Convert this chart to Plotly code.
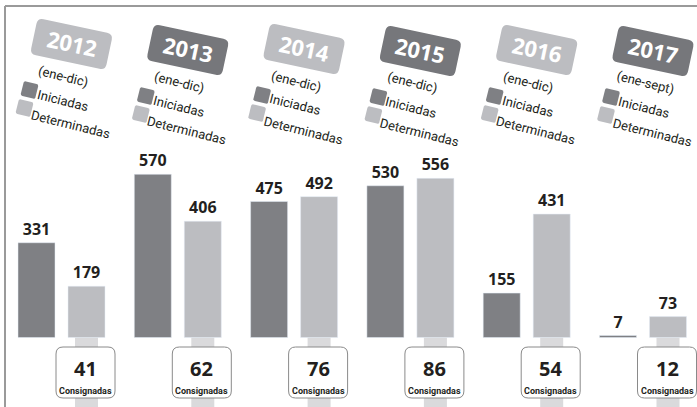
import math
import plotly.graph_objects as go

# ---------------- data ----------------
years = ["2012", "2013", "2014", "2015", "2016", "2017"]
periods = ["(ene-dic)", "(ene-dic)", "(ene-dic)", "(ene-dic)", "(ene-dic)", "(ene-sept)"]
iniciadas = [331, 570, 475, 530, 155, 7]
determinadas = [179, 406, 492, 556, 431, 73]
consignadas = [41, 62, 76, 86, 54, 12]
series_names = ["Iniciadas", "Determinadas"]
box_label = "Consignadas"

# ---------------- style / layout ----------------
W, H = 697, 407
DARK = "#7f8084"
LIGHT = "#bcbdc1"
STRIP = "#dadadc"
TXT = "#231f20"
NUM_FONT = "Open Sans, Liberation Sans, sans-serif"
NARROW = "Roboto, Liberation Sans, sans-serif"

PX_X = 116.3
X0_PX = 61.5
PX_Y = 0.2863
BASE_PX = 337.5
BAR_W = 37 / PX_X
HALF_SEP = 25 / PX_X
ANG_BADGE = 12
ANG_TEXT = 14

x_idx = list(range(len(years)))

fig = go.Figure()
fig.add_trace(go.Bar(
    x=x_idx, y=iniciadas, name=series_names[0], marker_color=DARK,
    width=BAR_W, offset=-HALF_SEP - BAR_W / 2,
    text=iniciadas, textposition="outside", constraintext="none", cliponaxis=False,
    textfont=dict(family=NUM_FONT, size=16, color=TXT, weight="bold"),
    hoverinfo="skip"))
fig.add_trace(go.Bar(
    x=x_idx, y=determinadas, name=series_names[1], marker_color=LIGHT,
    width=BAR_W, offset=HALF_SEP - BAR_W / 2,
    text=determinadas, textposition="outside", constraintext="none", cliponaxis=False,
    textfont=dict(family=NUM_FONT, size=16, color=TXT, weight="bold"),
    hoverinfo="skip"))


def rr_path(w, h, r, ang_deg=0.0, cx=0.0, cy=0.0):
    """rounded rectangle in pixel offsets (y up), rotated clockwise on screen."""
    a = math.radians(ang_deg)
    ca, sa = math.cos(a), math.sin(a)

    def P(u, v):
        X = cx + u * ca - v * sa
        Y = cy - (u * sa + v * ca)
        return f"{X:.2f},{Y:.2f}"

    hw, hh = w / 2, h / 2
    return (f"M{P(-hw + r, -hh)} L{P(hw - r, -hh)} Q{P(hw, -hh)} {P(hw, -hh + r)} "
            f"L{P(hw, hh - r)} Q{P(hw, hh)} {P(hw - r, hh)} L{P(-hw + r, hh)} "
            f"Q{P(-hw, hh)} {P(-hw, hh - r)} L{P(-hw, -hh + r)} Q{P(-hw, -hh)} {P(-hw + r, -hh)} Z")


def paper_y(py):
    return 1 - py / H


shapes = []
annotations = []
group_dy = [-6, 0, -1, 1, 0, 1]

for i in x_idx:
    dy = group_dy[i]
    badge_col = LIGHT if i % 2 == 0 else "#76777b"
    shapes.append(dict(type="path", xref="x", yref="paper", xsizemode="pixel", ysizemode="pixel",
                       xanchor=i, yanchor=paper_y(50 + dy),
                       path=rr_path(77, 37, 6, ANG_BADGE, cx=10), fillcolor=badge_col, line=dict(width=0)))
    annotations.append(dict(x=i, y=paper_y(49 + dy), xref="x", yref="paper", xshift=10,
                            text=f"<b>{years[i]}</b>", showarrow=False, textangle=ANG_BADGE,
                            font=dict(family=NUM_FONT, size=22, color="white"),
                            xanchor="center", yanchor="middle"))
    annotations.append(dict(x=i, y=paper_y(82 + dy), xref="x", yref="paper", xshift=2,
                            text=periods[i], showarrow=False, textangle=ANG_TEXT,
                            font=dict(family=NARROW, size=13, color=TXT),
                            xanchor="center", yanchor="middle"))
    shapes.append(dict(type="path", xref="x", yref="paper", xsizemode="pixel", ysizemode="pixel",
                       xanchor=i, yanchor=paper_y(96 + dy),
                       path=rr_path(15, 15, 2, ANG_TEXT, cx=-32), fillcolor=DARK, line=dict(width=0)))
    shapes.append(dict(type="path", xref="x", yref="paper", xsizemode="pixel", ysizemode="pixel",
                       xanchor=i, yanchor=paper_y(114 + dy),
                       path=rr_path(15, 15, 2, ANG_TEXT, cx=-37), fillcolor=LIGHT, line=dict(width=0)))
    annotations.append(dict(x=i, y=paper_y(106 + dy), xref="x", yref="paper", xshift=1,
                            text=series_names[0], showarrow=False, textangle=ANG_TEXT,
                            font=dict(family=NARROW, size=13, color=TXT),
                            xanchor="center", yanchor="middle"))
    annotations.append(dict(x=i, y=paper_y(131 + dy), xref="x", yref="paper", xshift=9,
                            text=series_names[1], showarrow=False, textangle=ANG_TEXT,
                            font=dict(family=NARROW, size=13, color=TXT),
                            xanchor="center", yanchor="middle"))
    xc = i + HALF_SEP
    shapes.append(dict(type="path", xref="x", yref="y", xsizemode="pixel", ysizemode="pixel",
                       xanchor=xc, yanchor=0, layer="below",
                       path="M-11.5,0 L11.5,0 L11.5,-80 L-11.5,-80 Z",
                       fillcolor=STRIP, line=dict(width=0)))
    shapes.append(dict(type="path", xref="x", yref="y", xsizemode="pixel", ysizemode="pixel",
                       xanchor=xc, yanchor=0, layer="below",
                       path=rr_path(59, 51, 7, 0, cx=-1, cy=-35),
                       fillcolor="white", line=dict(color="#8a8a8a", width=1)))
    annotations.append(dict(x=xc, y=0, xref="x", yref="y", xshift=-1, yshift=-31,
                            text=f"<b>{consignadas[i]}</b>", showarrow=False, borderpad=0,
                            font=dict(family=NUM_FONT, size=20, color=TXT),
                            xanchor="center", yanchor="middle"))
    annotations.append(dict(x=xc, y=0, xref="x", yref="y", xshift=-1, yshift=-53,
                            text=f"<b>{box_label}</b>", showarrow=False, borderpad=0,
                            font=dict(family=NARROW, size=9, color=TXT),
                            xanchor="center", yanchor="middle"))

shapes.append(dict(type="line", xref="paper", yref="paper", x0=5 / W, x1=1, y0=paper_y(6), y1=paper_y(6),
                   line=dict(color="#9a9a9a", width=2)))
shapes.append(dict(type="line", xref="paper", yref="paper", x0=5 / W, x1=5 / W, y0=0, y1=paper_y(6),
                   line=dict(color="#9a9a9a", width=2)))

fig.update_layout(
    width=W, height=H,
    margin=dict(l=0, r=0, t=0, b=0, pad=0),
    paper_bgcolor="white", plot_bgcolor="white",
    showlegend=False, barmode="overlay",
    xaxis=dict(range=[-X0_PX / PX_X, (W - X0_PX) / PX_X], visible=False, fixedrange=True),
    yaxis=dict(range=[-(H - BASE_PX) / PX_Y, BASE_PX / PX_Y], visible=False, fixedrange=True),
    shapes=shapes, annotations=annotations,
)

fig.write_html("out.html", config={"displayModeBar": False},
               post_script="document.body.style.margin='0';document.body.style.overflow='hidden';")
